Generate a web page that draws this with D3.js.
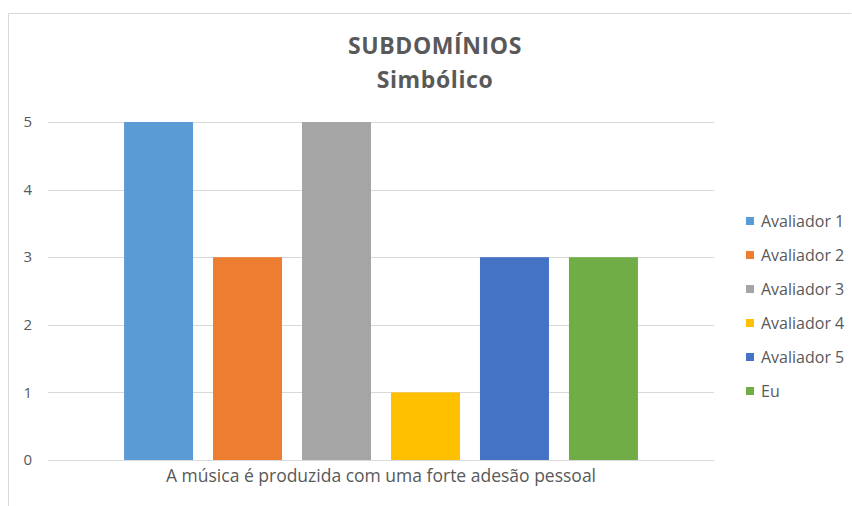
<!DOCTYPE html>
<html>
<head>
<meta charset="utf-8">
<script src="https://cdn.jsdelivr.net/npm/d3@7"></script>
<style>
  body { margin: 0; background: #fff; }
  text { font-family: "Open Sans", "Noto Sans", sans-serif; fill: #595959; }
</style>
</head>
<body>
<script>
const category = 'A música é produzida com uma forte adesão pessoal';
const series = ['Avaliador 1', 'Avaliador 2', 'Avaliador 3', 'Avaliador 4', 'Avaliador 5', 'Eu'];
const values = [5, 3, 5, 1, 3, 3];
const colors = ['#5B9BD5', '#ED7D31', '#A5A5A5', '#FFC000', '#4472C4', '#70AD47'];
const yTicks = [0, 1, 2, 3, 4, 5];

const w = 852;
const h = 506;
const svg = d3.select('body').append('svg').attr('width', w).attr('height', h);

// chart frame (left and top edges visible)
svg.append('path')
  .attr('d', 'M8.5,506 L8.5,13.5 L851.5,13.5')
  .attr('fill', 'none')
  .attr('stroke', '#D9D9D9');

const plot = { left: 48, right: 714, top: 122, bottom: 460 };

const yScale = d3.scaleLinear().domain([0, 5]).range([plot.bottom, plot.top]);

// outer band = category group, inner band = series
const xOuter = d3.scaleBand().domain([category]).range([plot.left, plot.right]).paddingInner(0).paddingOuter(0.148);
const xInner = d3.scaleBand().domain(series).range([0, xOuter.bandwidth()]).paddingInner(0.2247).paddingOuter(0);

// gridlines
svg.append('g')
  .selectAll('line')
  .data(yTicks)
  .enter()
  .append('line')
  .attr('x1', plot.left)
  .attr('x2', plot.right)
  .attr('y1', (d) => Math.round(yScale(d)) + 0.5)
  .attr('y2', (d) => Math.round(yScale(d)) + 0.5)
  .attr('stroke', '#D9D9D9')
  .attr('stroke-width', 1);

// y tick labels
svg.append('g')
  .selectAll('text')
  .data(yTicks)
  .enter()
  .append('text')
  .attr('x', 32)
  .attr('y', (d) => yScale(d))
  .attr('dy', '0.35em')
  .attr('text-anchor', 'end')
  .style('font-size', '15px')
  .text((d) => d);

// bars
const x0 = xOuter(category);
svg.append('g')
  .selectAll('rect')
  .data(values)
  .enter()
  .append('rect')
  .attr('x', (d, i) => x0 + xInner(series[i]))
  .attr('y', (d) => yScale(d))
  .attr('width', xInner.bandwidth())
  .attr('height', (d) => yScale(0) - yScale(d))
  .attr('fill', (d, i) => colors[i]);

// category label
svg.append('text')
  .attr('x', x0 + xOuter.bandwidth() / 2)
  .attr('y', 482)
  .attr('text-anchor', 'middle')
  .style('font-size', '17.5px')
  .text(category);

// title
svg.append('text')
  .attr('x', 435)
  .attr('y', 54)
  .attr('text-anchor', 'middle')
  .style('font-size', '23px')
  .style('font-weight', 'bold')
  .style('letter-spacing', '0.6px')
  .text('SUBDOMÍNIOS');
svg.append('text')
  .attr('x', 435)
  .attr('y', 88)
  .attr('text-anchor', 'middle')
  .style('font-size', '23px')
  .style('font-weight', 'bold')
  .style('letter-spacing', '0.6px')
  .text('Simbólico');

// legend
const legend = svg.append('g')
  .selectAll('g')
  .data(series)
  .enter()
  .append('g')
  .attr('transform', (d, i) => `translate(746, ${221 + i * 34})`);

legend.append('rect')
  .attr('x', 0)
  .attr('y', -4)
  .attr('width', 8)
  .attr('height', 8)
  .attr('fill', (d, i) => colors[i]);

legend.append('text')
  .attr('x', 15)
  .attr('y', 0)
  .attr('dy', '0.35em')
  .style('font-size', '16px')
  .text((d) => d);
</script>
</body>
</html>
